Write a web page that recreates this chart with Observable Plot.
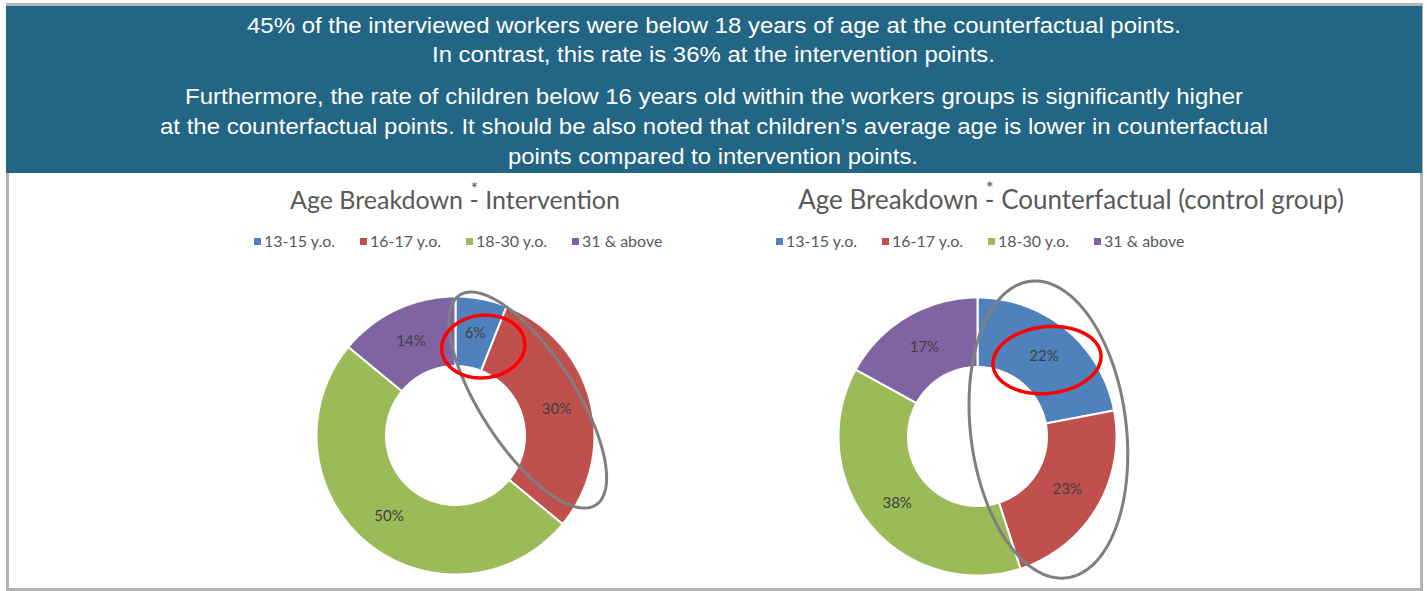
<!DOCTYPE html>
<html>
<head>
<meta charset="utf-8">
<script src="https://cdn.jsdelivr.net/npm/d3@7"></script>
<script src="https://cdn.jsdelivr.net/npm/@observablehq/plot@0.6"></script>
<style>
  body { margin: 0; background: #fff; }
  #frame { position: relative; width: 1427px; height: 591px; overflow: hidden; background: #fff; }
  #border { position: absolute; left: 6px; top: 3px; width: 1417px; height: 588px; box-sizing: border-box; border: 3px solid #b4b4b4; }
  #banner { position: absolute; left: 6px; top: 6px; width: 1416px; height: 167px; background: #226584; }
  .bl { position: absolute; color: #fff; font-family: "Liberation Sans", Arial, sans-serif; font-size: 21.5px; line-height: 24px; white-space: nowrap; transform-origin: 0 0; }
  .title { position: absolute; width: 700px; text-align: center; font-family: Lato, sans-serif; line-height: 30px; color: #595959; white-space: nowrap; }
  .ast { position: relative; display: inline-block; }
  .ast i { position: absolute; left: 1px; top: -0.6em; font-style: normal; font-size: 0.72em; }
  .legend { position: absolute; display: flex; font-family: Lato, sans-serif; font-size: 16px; line-height: 18px; color: #595959; white-space: nowrap; }
  .legend .it { width: 106px; display: flex; align-items: center; }
  .legend .sw { width: 7px; height: 7px; margin-right: 3px; flex: none; }
  .chart { position: absolute; }
</style>
</head>
<body>
<div id="frame">
  <div id="border"></div>
  <div id="banner"></div>
  <div id="bannerText"></div>
  <div id="charts"></div>
</div>
<script>
// ---------- data ----------
const categories = ["13-15 y.o.", "16-17 y.o.", "18-30 y.o.", "31 & above"];
const intervention = [6, 30, 50, 14];
const counterfactual = [22, 23, 38, 17];
const colors = ["#4F81BD", "#C0504D", "#9BBB59", "#8064A2"];

const bannerLines = [
  "45% of the interviewed workers were below 18 years of age at the counterfactual points.",
  "In contrast, this rate is 36% at the intervention points.",
  "Furthermore, the rate of children below 16 years old within the workers groups is significantly higher",
  "at the counterfactual points. It should be also noted that children\u2019s average age is lower in counterfactual",
  "points compared to intervention points."
];

const titles = [
  ["Age Breakdown", "Intervention"],
  ["Age Breakdown", "Counterfactual (control group)"]
];

// annotation ellipses, in units of the donut's outer radius, relative to the donut centre
const annotIntervention = [
  {cx: 0.52, cy: 0.255, a: 0.90, b: 0.34, rot: -57, color: "#7f7f7f", width: 3},
  {cx: 0.20, cy: 0.64, a: 0.30, b: 0.225, rot: 6, color: "#ff0000", width: 3.5}
];
const annotCounterfactual = [
  {cx: 0.51, cy: 0.05, a: 1.075, b: 0.56, rot: 97, color: "#7f7f7f", width: 3},
  {cx: 0.50, cy: 0.55, a: 0.39, b: 0.24, rot: 6, color: "#ff0000", width: 3.5}
];

// ---------- banner (layout) ----------
const bannerBaselines = [33, 62, 104, 134, 164];
const bannerSpans = [[247, 1181], [432, 995], [185, 1243], [160, 1268], [508, 918]];
const bt = document.getElementById("bannerText");
bannerLines.forEach((t, i) => {
  const d = document.createElement("div");
  d.className = "bl";
  d.style.top = (bannerBaselines[i] - 19) + "px";
  d.style.left = bannerSpans[i][0] + "px";
  d.textContent = t;
  bt.appendChild(d);
  const w = d.getBoundingClientRect().width;
  d.style.transform = `scaleX(${(bannerSpans[i][1] - bannerSpans[i][0]) / w})`;
});

// ---------- donuts ----------
const R = 139;          // outer radius in px
const inner = 0.5;      // hole ratio
const W = 400, H = 320, OX = 200, OY = 170;

function donut(values, annots) {
  const pie = d3.pie().sort(null).value(d => d)(values);
  const pts = [];
  const labels = [];
  pie.forEach((p, i) => {
    const a0 = p.startAngle, a1 = p.endAngle;
    const n = Math.max(4, Math.ceil((a1 - a0) / 0.02));
    for (let k = 0; k <= n; k++) {
      const a = a0 + (a1 - a0) * k / n;
      pts.push({cat: categories[i], x: Math.sin(a), y: Math.cos(a)});
    }
    for (let k = n; k >= 0; k--) {
      const a = a0 + (a1 - a0) * k / n;
      pts.push({cat: categories[i], x: inner * Math.sin(a), y: inner * Math.cos(a)});
    }
    const m = (a0 + a1) / 2, rm = (1 + inner) / 2;
    labels.push({x: rm * Math.sin(m), y: rm * Math.cos(m), text: values[i] + "%"});
  });
  const ell = [];
  annots.forEach((e, j) => {
    const th = e.rot * Math.PI / 180;
    for (let k = 0; k < 120; k++) {
      const t = 2 * Math.PI * k / 120;
      ell.push({j, x: e.cx + e.a * Math.cos(t) * Math.cos(th) - e.b * Math.sin(t) * Math.sin(th),
                   y: e.cy + e.a * Math.cos(t) * Math.sin(th) + e.b * Math.sin(t) * Math.cos(th)});
    }
  });
  return Plot.plot({
    width: W, height: H,
    margin: 0,
    x: {domain: [-OX / R, (W - OX) / R], axis: null},
    y: {domain: [-(H - OY) / R, OY / R], axis: null},
    color: {domain: categories, range: colors},
    style: {background: "transparent", overflow: "visible"},
    marks: [
      Plot.line(pts, {x: "x", y: "y", z: "cat", fill: "cat", stroke: "white", strokeWidth: 2, curve: "linear-closed"}),
      Plot.text(labels, {x: "x", y: "y", text: "text", fill: "#404040", fontSize: 15, fontFamily: "Lato, sans-serif"}),
      ...annots.map((e, j) => Plot.line(ell.filter(d => d.j === j), {x: "x", y: "y", stroke: e.color, strokeWidth: e.width, curve: "linear-closed", fill: "none"}))
    ]
  });
}

const charts = document.getElementById("charts");
const centers = [[455, 435], [977, 436]];
const titleCenters = [455, 1071];
const titleSizes = [25, 26];
const legendStarts = [254, 776];
const datasets = [intervention, counterfactual];
const annots = [annotIntervention, annotCounterfactual];

datasets.forEach((vals, idx) => {
  const [cx, cy] = centers[idx];
  // title
  const t = document.createElement("div");
  t.className = "title";
  t.style.fontSize = titleSizes[idx] + "px";
  t.style.left = (titleCenters[idx] - 350) + "px";
  t.style.top = (207 - 23) + "px";
  t.innerHTML = `${titles[idx][0]} <span class="ast">-<i>*</i></span> ${titles[idx][1]}`;
  charts.appendChild(t);
  // legend
  const lg = document.createElement("div");
  lg.className = "legend";
  lg.style.left = legendStarts[idx] + "px";
  lg.style.top = (241 - 9) + "px";
  categories.forEach((c, i) => {
    const it = document.createElement("div");
    it.className = "it";
    it.innerHTML = `<span class="sw" style="background:${colors[i]}"></span><span>${c}</span>`;
    lg.appendChild(it);
  });
  charts.appendChild(lg);
  // donut
  const svg = donut(vals, annots[idx]);
  svg.classList.add("chart");
  svg.style.left = (cx - OX) + "px";
  svg.style.top = (cy - OY) + "px";
  charts.appendChild(svg);
});
</script>
</body>
</html>
